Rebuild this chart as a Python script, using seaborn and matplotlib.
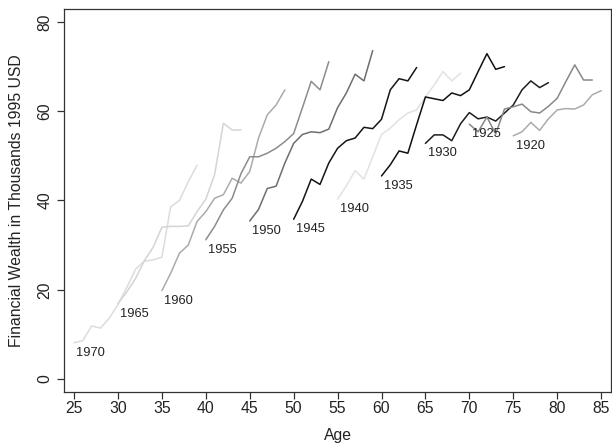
import numpy as np
import pandas as pd
import seaborn as sns
import matplotlib
matplotlib.use("Agg")
import matplotlib.pyplot as plt

# birth cohorts and the age at which each series starts
cohorts = [1970, 1965, 1960, 1955, 1950, 1945, 1940, 1935, 1930, 1925, 1920]
start_age = [25, 30, 35, 40, 45, 50, 55, 60, 65, 70, 75]

# financial wealth (thousands of 1995 USD), one value per year of age
w1970 = [8.1, 8.6, 11.9, 11.4, 13.6, 16.7, 20.5, 24.6, 26.4, 26.7, 27.3, 38.6, 40.0, 44.2, 47.9]
w1965 = [16.9, 19.5, 22.5, 26.5, 29.5, 34.0, 34.2, 34.2, 34.3, 37.5, 40.3, 45.8, 57.3, 55.8, 55.8]
w1960 = [19.8, 23.7, 28.2, 30.0, 35.3, 37.5, 40.5, 41.3, 45.0, 43.9, 46.5, 54.0, 59.2, 61.4, 64.8]
w1955 = [31.2, 34.2, 37.9, 40.5, 46.0, 49.8, 49.8, 50.6, 51.7, 53.2, 55.0, 60.8, 66.7, 64.8, 71.1]
w1950 = [35.4, 38.0, 42.7, 43.2, 48.4, 52.8, 54.8, 55.4, 55.2, 56.0, 60.8, 64.1, 68.3, 66.8, 73.6]
w1945 = [35.8, 39.8, 44.8, 43.6, 48.4, 51.7, 53.4, 54.0, 56.4, 56.1, 58.2, 64.8, 67.3, 66.8, 69.8]
w1940 = [40.3, 43.3, 46.7, 44.8, 49.8, 54.8, 56.2, 58.1, 59.6, 60.3, 63.2, 65.9, 68.9, 66.8, 68.5]
w1935 = [45.5, 48.0, 51.1, 50.6, 57.0, 63.2, 62.8, 62.4, 64.1, 63.5, 64.8, 68.9, 72.9, 69.4, 70.0]
w1930 = [52.8, 54.7, 54.7, 53.4, 57.2, 59.7, 58.3, 58.7, 57.8, 59.6, 61.4, 64.8, 66.8, 65.3, 66.4]
w1925 = [57.1, 55.4, 58.7, 54.9, 60.5, 61.0, 61.6, 59.9, 59.6, 61.1, 62.9, 66.7, 70.4, 67.0, 67.0]
w1920 = [54.5, 55.4, 57.5, 55.7, 58.3, 60.3, 60.6, 60.5, 61.4, 63.7, 64.6]

series = [w1970, w1965, w1960, w1955, w1950, w1945, w1940, w1935, w1930, w1925, w1920]

line_colors = ["#dcdcdc", "#d4d4d4", "#ababab", "#8c8c8c", "#6e6e6e", "#151515",
               "#e2e2e2", "#111111", "#1e1e1e", "#888888", "#ababab"]

# long form table for seaborn
rows = []
for c, a0, vals in zip(cohorts, start_age, series):
    for i, v in enumerate(vals):
        rows.append({"cohort": str(c), "age": a0 + i, "wealth": v})
df = pd.DataFrame(rows)

sns.set_style("ticks")
plt.rcParams["font.family"] = ["Liberation Sans", "DejaVu Sans"]

fig = plt.figure(figsize=(6.12, 4.46), dpi=100)
ax = fig.add_axes([0.1052, 0.1202, 0.8928, 0.8605])

palette = {str(c): col for c, col in zip(cohorts, line_colors)}
sns.lineplot(data=df, x="age", y="wealth", hue="cohort", palette=palette,
             estimator=None, legend=False, linewidth=1.1, ax=ax)

# cohort labels just below the first point of each line
for c, a0, vals in zip(cohorts, start_age, series):
    ax.annotate(str(c), xy=(a0, vals[0]), xytext=(1.7, -7.2),
                textcoords="offset points", ha="left", va="center",
                fontsize=9.3, color="#222222")

ax.set_xlim(23.9, 86.1)
ax.set_ylim(-3.0, 83.0)
ax.set_xticks(np.arange(25, 90, 5))
ax.set_yticks(np.arange(0, 100, 20))
ax.set_yticklabels([str(v) for v in range(0, 100, 20)], rotation=90, va="center")

for side in ["top", "right", "left", "bottom"]:
    ax.spines[side].set_visible(True)
    ax.spines[side].set_color("#333333")
    ax.spines[side].set_linewidth(0.9)
ax.tick_params(axis="both", length=4.7, width=0.9, color="#333333",
               labelsize=11.3, labelcolor="#222222")
ax.tick_params(axis="x", pad=1.5)
ax.tick_params(axis="y", pad=4.0)

ax.set_xlabel("Age", fontsize=11.3, color="#222222")
ax.set_ylabel("Financial Wealth in Thousands 1995 USD", fontsize=11.3, color="#222222")
ax.xaxis.set_label_coords(0.5, -0.093)
ax.yaxis.set_label_coords(-0.074, 0.5)

fig.savefig("out.png", dpi=100)
